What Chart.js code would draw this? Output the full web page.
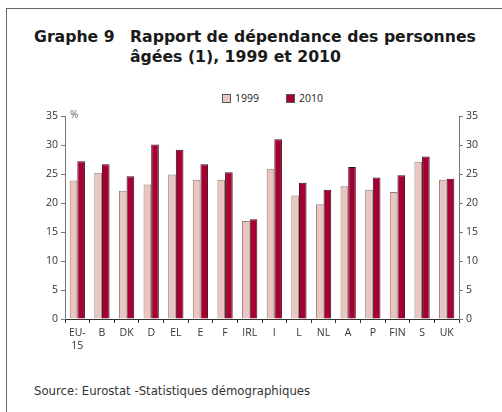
<!DOCTYPE html>
<html lang="fr">
<head>
    <meta charset="UTF-8">
    <title>Graphe 9</title>
    <script src="https://cdn.jsdelivr.net/npm/chart.js"></script>
    <style>
        body {
            margin: 0;
            width: 502px;
            height: 412px;
            overflow: hidden;
            background: #fff;
            font-family: "Open Sans", sans-serif;
            color: #222;
        }
        #frame {
            position: absolute;
            left: 6px;
            top: 8px;
            width: 520px;
            height: 420px;
            border-left: 1px solid #666;
            border-top: 1px solid #666;
        }
        .title {
            position: absolute;
            top: 27px;
            font-family: "DejaVu Sans", sans-serif;
            font-weight: bold;
            font-size: 15.7px;
            line-height: 20px;
            color: #1a1a1a;
        }
        #legend {
            position: absolute;
            top: 91px;
            left: 222px;
            font-size: 10.5px;
            color: #222;
        }
        #legend span.box {
            display: inline-block;
            width: 7px;
            height: 7px;
            border: 1px solid #555;
            vertical-align: -1px;
            margin-right: 4px;
        }
        #pct {
            position: absolute;
            left: 70px;
            top: 107px;
            font-size: 10px;
            color: #666;
        }
        #source {
            position: absolute;
            left: 34px;
            top: 384px;
            font-family: "DejaVu Sans", sans-serif;
            font-size: 11.7px;
            color: #333;
        }
        #chartBox {
            position: absolute;
            left: 0;
            top: 0;
            width: 502px;
            height: 412px;
        }
    </style>
</head>
<body>
    <div id="frame"></div>
    <div class="title" style="left:34px">Graphe 9</div>
    <div class="title" style="left:130px">Rapport de dépendance des personnes<br>âgées (1), 1999 et 2010</div>
    <div id="legend"></div>
    <div id="pct">%</div>
    <div id="source">Source: Eurostat -Statistiques démographiques</div>
    <div id="chartBox"><canvas id="myChart" width="502" height="412"></canvas></div>

    <script>
        const countries = ['EU-15', 'B', 'DK', 'D', 'EL', 'E', 'F', 'IRL', 'I', 'L', 'NL', 'A', 'P', 'FIN', 'S', 'UK'];
        const years = ['1999', '2010'];
        const ratio1999 = [23.9, 25.2, 22.1, 23.2, 24.9, 24.0, 24.0, 16.9, 25.9, 21.3, 19.8, 22.9, 22.3, 21.9, 27.1, 24.0];
        const ratio2010 = [27.2, 26.7, 24.6, 30.1, 29.2, 26.7, 25.3, 17.2, 31.0, 23.5, 22.3, 26.2, 24.4, 24.8, 28.0, 24.2];
        const yTicks = [0, 5, 10, 15, 20, 25, 30, 35];

        const pink = '#ebc5bf';
        const crimson = '#a60032';

        // legende en html
        const legend = document.getElementById('legend');
        legend.innerHTML =
            '<span class="box" style="background:' + pink + '"></span>' + years[0] +
            '<span class="box" style="background:' + crimson + ';margin-left:27px"></span>' + years[1];

        const tickFont = { family: 'Open Sans', size: 10.5 };
        const axisGray = '#777';

        function yAxis(position, width) {
            return {
                position: position,
                min: 0,
                max: 35,
                afterBuildTicks: s => { s.ticks = yTicks.map(v => ({ value: v })); },
                afterFit: s => { s.width = width; },
                ticks: { color: '#333', font: tickFont, padding: 3 },
                grid: { drawOnChartArea: false, tickLength: 4, color: axisGray },
                border: { display: true, color: axisGray, width: 1 }
            };
        }

        const ctx = document.getElementById('myChart').getContext('2d');
        new Chart(ctx, {
            type: 'bar',
            data: {
                labels: countries.map(c => c === 'EU-15' ? ['EU-', '15'] : c),
                datasets: [{
                    label: years[0],
                    data: ratio1999,
                    backgroundColor: pink,
                    borderColor: '#8c7f7d',
                    borderWidth: 1,
                    yAxisID: 'y'
                }, {
                    label: years[1],
                    data: ratio2010,
                    backgroundColor: crimson,
                    borderColor: '#3b1018',
                    borderWidth: 1,
                    yAxisID: 'y'
                }]
            },
            options: {
                responsive: false,
                animation: false,
                categoryPercentage: 0.62,
                barPercentage: 1.0,
                layout: { padding: { top: 116, left: 0, right: 0, bottom: 62 } },
                plugins: {
                    legend: { display: false },
                    tooltip: { enabled: false }
                },
                scales: {
                    x: {
                        afterFit: s => { s.height = 31; },
                        ticks: { color: '#333', font: tickFont, padding: 4, maxRotation: 0, autoSkip: false },
                        grid: { drawOnChartArea: false, tickLength: 4, color: '#333', offset: true },
                        border: { display: true, color: '#333', width: 1 }
                    },
                    y: yAxis('left', 65),
                    y1: yAxis('right', 43)
                }
            }
        });
    </script>
</body>
</html>
